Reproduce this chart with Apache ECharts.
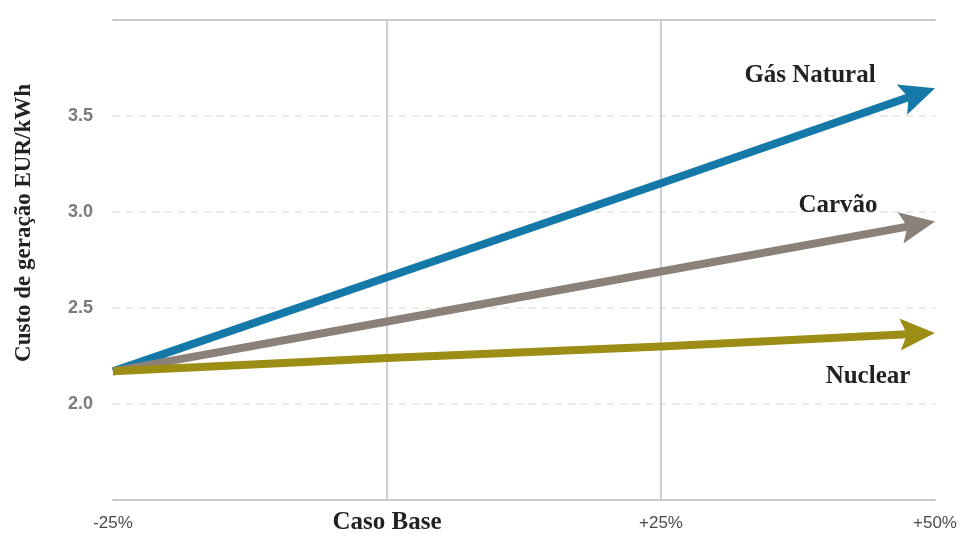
<!DOCTYPE html>
<html>
<head>
<meta charset="utf-8">
<script src="https://cdn.jsdelivr.net/npm/echarts@6/dist/echarts.min.js"></script>
<style>
  html, body { margin: 0; padding: 0; background: #ffffff; }
  #chart { width: 960px; height: 537px; }
</style>
</head>
<body>
<div id="chart"></div>
<script>
// Scenario categories along the x axis
const scenarios = ['-25%', 'Caso Base', '+25%', '+50%'];
// Tick values that get a label on the y axis
const yTicks = [2.0, 2.5, 3.0, 3.5];
// Generation cost (EUR/kWh) per scenario
const gasNatural = [2.17, 2.66, 3.15, 3.645];
const carvao = [2.17, 2.43, 2.69, 2.95];
const nuclear = [2.17, 2.24, 2.30, 2.37];
const seriesNames = ['Gás Natural', 'Carvão', 'Nuclear'];

const serifBold = 'bold 25px "Liberation Serif", "Times New Roman", serif';

// Thick arrow drawn through all points of a series, with its name near the tip
function arrowSeries(name, values, color, labelDx, labelDy) {
  return {
    name: name,
    type: 'custom',
    coordinateSystem: 'cartesian2d',
    clip: false,
    data: values.map((v, i) => [i, v]),
    encode: { x: 0, y: 1 },
    renderItem: function (params, api) {
      if (params.dataIndex !== values.length - 1) return null;
      const pts = values.map((v, i) => api.coord([i, v]));
      const tip = pts[pts.length - 1];
      const start = pts[0];
      const dx = tip[0] - start[0], dy = tip[1] - start[1];
      const len = Math.sqrt(dx * dx + dy * dy);
      const ux = dx / len, uy = dy / len;
      const nx = -uy, ny = ux;
      const headLen = 35, headHalf = 16, notch = 7;
      const base = [tip[0] - headLen * ux, tip[1] - headLen * uy];
      const inner = [tip[0] - (headLen - notch) * ux, tip[1] - (headLen - notch) * uy];
      const shaftPts = pts.slice(0, pts.length - 1).concat([inner]);
      return {
        type: 'group',
        children: [
          {
            type: 'polyline',
            shape: { points: shaftPts },
            style: { stroke: color, lineWidth: 8, fill: null, lineCap: 'butt' }
          },
          {
            type: 'polygon',
            shape: {
              points: [
                tip,
                [base[0] + headHalf * nx, base[1] + headHalf * ny],
                inner,
                [base[0] - headHalf * nx, base[1] - headHalf * ny]
              ]
            },
            style: { fill: color, stroke: null }
          },
          {
            type: 'text',
            x: tip[0] + labelDx,
            y: tip[1] + labelDy,
            style: {
              text: name,
              font: serifBold,
              fill: '#222222',
              align: 'center',
              verticalAlign: 'middle'
            }
          }
        ]
      };
    }
  };
}

const chart = echarts.init(document.getElementById('chart'), null, { renderer: 'canvas' });

chart.setOption({
  backgroundColor: '#ffffff',
  animation: false,
  grid: { left: 113, right: 25, top: 20, bottom: 37, containLabel: false },
  xAxis: [
    {
      type: 'value',
      min: 0,
      max: scenarios.length - 1,
      interval: 1,
      axisLine: { show: true, lineStyle: { color: '#c9c9c9', width: 2 } },
      axisTick: { show: false },
      splitLine: {
        show: true,
        showMinLine: false,
        showMaxLine: false,
        lineStyle: { color: '#cfcfcf', width: 2, type: 'solid' }
      },
      axisLabel: {
        margin: 15,
        showMinLabel: true,
        showMaxLabel: true,
        formatter: function (v) {
          const i = Math.round(v);
          return i === 1 ? '{b|' + scenarios[i] + '}' : '{p|' + scenarios[i] + '}';
        },
        rich: {
          p: { fontFamily: '"Liberation Sans", Arial, sans-serif', fontSize: 17, color: '#4a4a4a', lineHeight: 16 },
          b: { fontFamily: '"Liberation Serif", "Times New Roman", serif', fontWeight: 'bold', fontSize: 25, color: '#222222', lineHeight: 16 }
        }
      }
    },
    {
      type: 'value',
      position: 'top',
      min: 0,
      max: scenarios.length - 1,
      axisLine: { show: true, lineStyle: { color: '#c9c9c9', width: 2 } },
      axisTick: { show: false },
      axisLabel: { show: false },
      splitLine: { show: false }
    }
  ],
  yAxis: {
    type: 'value',
    min: 1.5,
    max: 4.0,
    interval: 0.5,
    axisLine: { show: false },
    axisTick: { show: false },
    splitLine: {
      show: true,
      showMinLine: false,
      showMaxLine: false,
      lineStyle: { color: '#e3e3e3', width: 1.5, type: [7, 6] }
    },
    axisLabel: {
      margin: 20,
      fontFamily: '"Liberation Sans", Arial, sans-serif',
      fontWeight: 'bold',
      fontSize: 18,
      color: '#7a7a7a',
      formatter: function (v) {
        return yTicks.indexOf(v) >= 0 ? v.toFixed(1) : '';
      }
    }
  },
  graphic: [
    {
      type: 'text',
      x: 24,
      y: 223,
      rotation: Math.PI / 2,
      style: {
        text: 'Custo de geração EUR/kWh',
        font: 'bold 23px "Liberation Serif", "Times New Roman", serif',
        fill: '#222222',
        align: 'center',
        verticalAlign: 'middle'
      }
    }
  ],
  series: [
    arrowSeries(seriesNames[0], gasNatural, '#1479a9', -125, -13),
    arrowSeries(seriesNames[1], carvao, '#8b8178', -97, -16),
    arrowSeries(seriesNames[2], nuclear, '#9c8d14', -67, 44)
  ]
});
</script>
</body>
</html>
